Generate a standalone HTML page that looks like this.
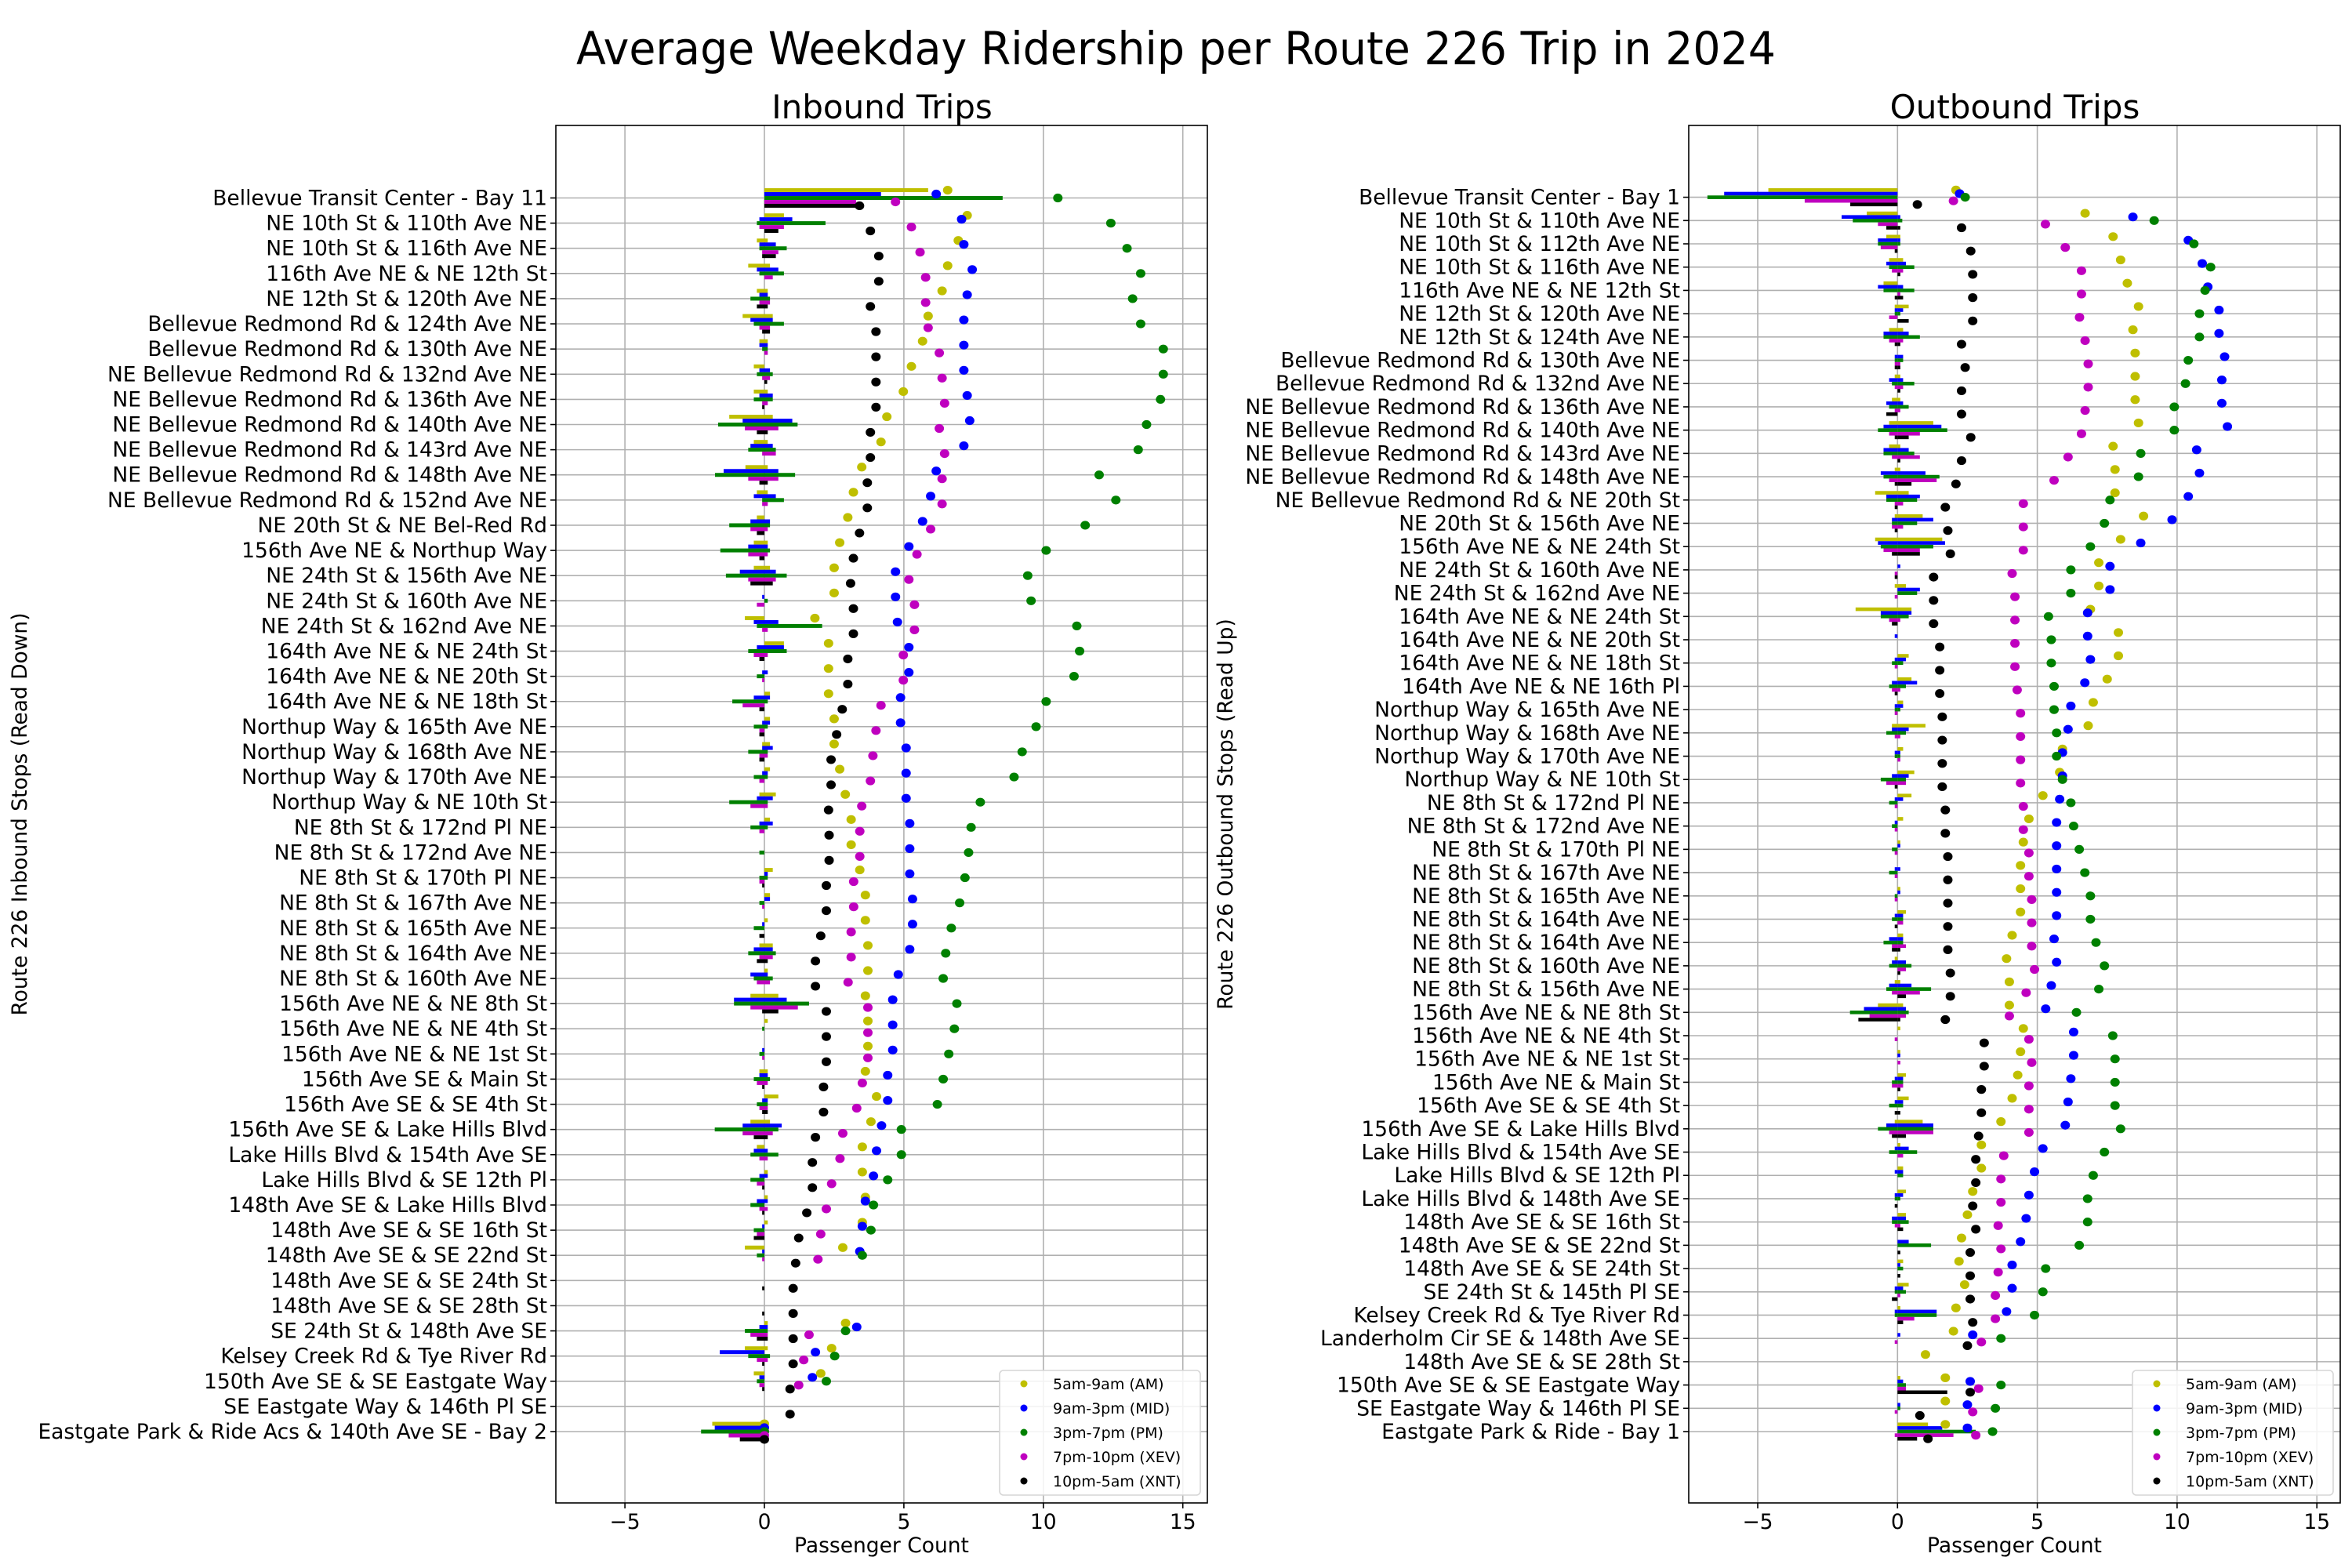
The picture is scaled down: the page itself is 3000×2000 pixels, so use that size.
<!DOCTYPE html>
<html><head><meta charset="utf-8"><style>
html,body{margin:0;padding:0;background:#fff;}
svg{display:block;font-family:"DejaVu Sans","Liberation Sans",sans-serif;}
</style></head><body>
<svg id="fig" width="3000" height="2000" viewBox="0 0 3000 2000" xmlns="http://www.w3.org/2000/svg">
<rect width="3000" height="2000" fill="#fff"/>
<text x="1500" y="82" font-size="58" text-anchor="middle" textLength="1530" lengthAdjust="spacingAndGlyphs">Average Weekday Ridership per Route 226 Trip in 2024</text>
<text x="1125" y="151" font-size="42" text-anchor="middle">Inbound Trips</text>
<text x="2570" y="151" font-size="42" text-anchor="middle">Outbound Trips</text>
<g id="L"></g><g id="R"></g>
</svg>
<script>
const seriesNames = ["5am-9am (AM)","9am-3pm (MID)","3pm-7pm (PM)","7pm-10pm (XEV)","10pm-5am (XNT)"];
const seriesColors = ["#bfbf00","#0000ff","#008000","#bf00bf","#000000"];
const xTicks = [-5,0,5,10,15];

const inStops = ["Bellevue Transit Center - Bay 11","NE 10th St & 110th Ave NE","NE 10th St & 116th Ave NE","116th Ave NE & NE 12th St","NE 12th St & 120th Ave NE","Bellevue Redmond Rd & 124th Ave NE","Bellevue Redmond Rd & 130th Ave NE","NE Bellevue Redmond Rd & 132nd Ave NE","NE Bellevue Redmond Rd & 136th Ave NE","NE Bellevue Redmond Rd & 140th Ave NE","NE Bellevue Redmond Rd & 143rd Ave NE","NE Bellevue Redmond Rd & 148th Ave NE","NE Bellevue Redmond Rd & 152nd Ave NE","NE 20th St & NE Bel-Red Rd","156th Ave NE & Northup Way","NE 24th St & 156th Ave NE","NE 24th St & 160th Ave NE","NE 24th St & 162nd Ave NE","164th Ave NE & NE 24th St","164th Ave NE & NE 20th St","164th Ave NE & NE 18th St","Northup Way & 165th Ave NE","Northup Way & 168th Ave NE","Northup Way & 170th Ave NE","Northup Way & NE 10th St","NE 8th St & 172nd Pl NE","NE 8th St & 172nd Ave NE","NE 8th St & 170th Pl NE","NE 8th St & 167th Ave NE","NE 8th St & 165th Ave NE","NE 8th St & 164th Ave NE","NE 8th St & 160th Ave NE","156th Ave NE & NE 8th St","156th Ave NE & NE 4th St","156th Ave NE & NE 1st St","156th Ave SE & Main St","156th Ave SE & SE 4th St","156th Ave SE & Lake Hills Blvd","Lake Hills Blvd & 154th Ave SE","Lake Hills Blvd & SE 12th Pl","148th Ave SE & Lake Hills Blvd","148th Ave SE & SE 16th St","148th Ave SE & SE 22nd St","148th Ave SE & SE 24th St","148th Ave SE & SE 28th St","SE 24th St & 148th Ave SE","Kelsey Creek Rd & Tye River Rd","150th Ave SE & SE Eastgate Way","SE Eastgate Way & 146th Pl SE","Eastgate Park & Ride Acs & 140th Ave SE - Bay 2"];
const inAM = [6.57,7.27,6.95,6.57,6.37,5.87,5.67,5.27,4.98,4.39,4.18,3.49,3.19,2.99,2.7,2.5,2.5,1.81,2.3,2.3,2.3,2.5,2.5,2.7,2.9,3.11,3.11,3.42,3.62,3.62,3.71,3.71,3.62,3.71,3.71,3.62,4.02,3.82,3.51,3.51,3.62,3.51,2.81,null,null,2.91,2.41,2.02,null,0];
const inMID = [6.16,7.07,7.15,7.45,7.27,7.15,7.15,7.15,7.27,7.36,7.15,6.16,5.96,5.67,5.18,4.7,4.7,4.77,5.18,5.18,4.88,4.88,5.08,5.08,5.08,5.21,5.21,5.21,5.31,5.31,5.21,4.8,4.6,4.6,4.6,4.42,4.42,4.2,4.02,3.91,3.62,3.51,3.42,null,null,3.31,1.83,1.72,null,0];
const inPM = [10.52,12.42,13.0,13.49,13.2,13.49,14.3,14.3,14.2,13.7,13.4,12.0,12.6,11.5,10.1,9.44,9.56,11.2,11.3,11.1,10.1,9.74,9.24,8.95,7.74,7.41,7.32,7.19,7.0,6.7,6.5,6.41,6.9,6.81,6.61,6.41,6.2,4.91,4.91,4.42,3.91,3.82,3.51,null,null,2.91,2.52,2.22,null,0];
const inXEV = [4.70,5.27,5.58,5.78,5.78,5.87,6.27,6.37,6.46,6.27,6.46,6.37,6.37,5.96,5.47,5.18,5.38,5.38,4.98,4.98,4.18,4.0,3.89,3.8,3.49,3.42,3.42,3.2,3.2,3.11,3.11,3.0,3.71,3.71,3.71,3.51,3.31,2.81,2.71,2.41,2.22,2.02,1.92,null,null,1.6,1.41,1.23,null,0];
const inXNT = [3.41,3.80,4.1,4.1,3.8,4.0,4.0,4.0,4.0,3.8,3.8,3.69,3.69,3.41,3.19,3.09,3.19,3.19,2.99,2.99,2.79,2.59,2.39,2.39,2.3,2.32,2.32,2.22,2.22,2.02,1.83,1.83,2.22,2.22,2.22,2.12,2.12,1.83,1.72,1.72,1.52,1.23,1.12,1.03,1.03,1.03,1.03,0.92,0.92,0];
const inOnAM = [5.87,0.7,0.12,0.2,0.12,0.3,0.12,0,0.12,0.3,0.12,0.12,0.12,0,0.12,0.2,0,0,0.7,0,0.2,0.2,0.2,0.2,0.41,0.2,0,0.3,0.2,0.12,0.3,0.12,0.5,0.12,0,0.12,0.5,0.2,0,0.12,0.12,0.12,0,0,0,0.12,0.12,0,0,0];
const inOffAM = [0,0,-0.27,-0.58,-0.27,-0.78,-0.18,-0.38,-0.38,-1.26,-0.38,-0.68,-0.27,-0.27,-0.38,-0.38,0,-0.7,0,0,0,0,-0.08,0,-0.18,0,0,0,0,0,-0.18,0,-0.5,0,0,-0.18,0,-0.5,-0.27,0,0,0,-0.7,0,0,0,-0.7,-0.38,0,-1.87];
const inOnMID = [4.18,1.0,0.41,0.5,0.12,0.3,0.12,0.2,0.3,1.0,0.3,0.5,0.41,0.2,0.12,0.41,0,0.5,0.7,0.12,0.2,0.2,0.3,0.12,0.3,0.3,0,0.12,0.2,0,0.3,0.12,0.8,0,0,0.12,0.12,0.62,0.12,0.12,0.12,0,0,0,0,0.12,0,0,0,0];
const inOffMID = [0,-0.18,-0.18,-0.27,-0.18,-0.5,-0.18,-0.18,-0.18,-0.78,-0.5,-1.46,-0.38,-0.5,-0.58,-0.88,-0.08,-0.38,-0.27,-0.08,-0.38,-0.08,-0.08,-0.08,-0.27,-0.18,0,0,0,-0.08,-0.38,-0.5,-1.09,0,-0.08,-0.18,-0.08,-0.78,-0.38,-0.18,-0.27,-0.08,-0.08,0,0,-0.18,-1.6,-0.18,0,-1.78];
const inOnPM = [8.54,2.19,0.8,0.7,0.2,0.7,0.12,0.3,0.3,1.19,0.41,1.1,0.7,0.2,0.2,0.8,0.12,2.07,0.8,0,0.12,0.12,0.12,0.12,0.12,0.12,0,0.12,0,0,0.41,0.3,1.6,0,0,0.2,0.12,0.5,0.5,0,0,0,0,0,0,0.12,0.2,0,0,0];
const inOffPM = [0,-0.27,-0.18,-0.18,-0.5,-0.38,-0.08,-0.27,-0.38,-1.66,-0.58,-1.77,-0.08,-1.26,-1.58,-1.38,0,-0.27,-0.58,-0.27,-1.15,-0.38,-0.58,-0.38,-1.26,-0.5,-0.18,-0.18,-0.18,-0.38,-0.58,-0.38,-1.09,-0.08,-0.18,-0.38,-0.27,-1.78,-0.5,-0.5,-0.5,-0.38,-0.27,0,0,-0.7,-0.58,-0.27,0,-2.27];
const inOnXEV = [3.29,0.7,0.5,0.3,0.2,0.2,0.12,0.2,0.12,0.5,0.41,0.5,0.12,0.12,0.12,0.41,0,0.12,0.12,0,0,0,0.12,0,0.12,0,0,0,0,0,0.3,0.2,1.2,0,0,0.12,0.12,0.3,0.12,0,0.12,0,0,0,0,0.12,0.12,0,0,0];
const inOffXEV = [0,-0.18,-0.08,0,-0.18,-0.18,0,-0.08,-0.08,-0.7,-0.08,-0.58,-0.08,-0.5,-0.58,-0.58,-0.27,-0.08,-0.38,-0.08,-0.78,-0.18,-0.18,-0.18,-0.5,-0.18,0,-0.18,-0.08,0,-0.18,-0.27,-0.5,0,-0.08,-0.27,-0.18,-0.78,-0.18,-0.27,-0.18,-0.27,-0.08,0,0,-0.5,-0.27,-0.18,0,-1.28];
const inOnXNT = [3.3,0.5,0.41,0,0.12,0.2,0,0.1,0,0.12,0,0.12,0,0,0,0.3,0,0,0,0,0,0,0,0,0,0,0,0,0,0,0.12,0,0.5,0,0,0,0.12,0.12,0,0,0,0,0,0,0,0.12,0,0,0,0];
const inOffXNT = [0,0,-0.08,0,-0.27,-0.08,0,0,-0.08,-0.27,0,-0.18,0,-0.27,-0.18,-0.5,0,0,-0.18,0,-0.18,-0.18,-0.18,0,0,0,0,-0.08,0,-0.18,-0.27,0,-0.08,0,0,-0.08,-0.08,-0.38,0,-0.08,-0.08,-0.38,0,-0.08,-0.08,-0.27,-0.08,-0.08,0,-0.88];

const outStops = ["Bellevue Transit Center - Bay 1","NE 10th St & 110th Ave NE","NE 10th St & 112th Ave NE","NE 10th St & 116th Ave NE","116th Ave NE & NE 12th St","NE 12th St & 120th Ave NE","NE 12th St & 124th Ave NE","Bellevue Redmond Rd & 130th Ave NE","Bellevue Redmond Rd & 132nd Ave NE","NE Bellevue Redmond Rd & 136th Ave NE","NE Bellevue Redmond Rd & 140th Ave NE","NE Bellevue Redmond Rd & 143rd Ave NE","NE Bellevue Redmond Rd & 148th Ave NE","NE Bellevue Redmond Rd & NE 20th St","NE 20th St & 156th Ave NE","156th Ave NE & NE 24th St","NE 24th St & 160th Ave NE","NE 24th St & 162nd Ave NE","164th Ave NE & NE 24th St","164th Ave NE & NE 20th St","164th Ave NE & NE 18th St","164th Ave NE & NE 16th Pl","Northup Way & 165th Ave NE","Northup Way & 168th Ave NE","Northup Way & 170th Ave NE","Northup Way & NE 10th St","NE 8th St & 172nd Pl NE","NE 8th St & 172nd Ave NE","NE 8th St & 170th Pl NE","NE 8th St & 167th Ave NE","NE 8th St & 165th Ave NE","NE 8th St & 164th Ave NE","NE 8th St & 164th Ave NE","NE 8th St & 160th Ave NE","NE 8th St & 156th Ave NE","156th Ave NE & NE 8th St","156th Ave NE & NE 4th St","156th Ave NE & NE 1st St","156th Ave NE & Main St","156th Ave SE & SE 4th St","156th Ave SE & Lake Hills Blvd","Lake Hills Blvd & 154th Ave SE","Lake Hills Blvd & SE 12th Pl","Lake Hills Blvd & 148th Ave SE","148th Ave SE & SE 16th St","148th Ave SE & SE 22nd St","148th Ave SE & SE 24th St","SE 24th St & 145th Pl SE","Kelsey Creek Rd & Tye River Rd","Landerholm Cir SE & 148th Ave SE","148th Ave SE & SE 28th St","150th Ave SE & SE Eastgate Way","SE Eastgate Way & 146th Pl SE","Eastgate Park & Ride - Bay 1"];
const outAM = [2.09,6.71,7.71,7.98,8.22,8.62,8.42,8.5,8.5,8.5,8.62,7.71,7.78,7.78,8.8,7.98,7.2,7.2,6.9,7.9,7.9,7.5,7.0,6.82,5.9,5.8,5.2,4.7,4.5,4.4,4.4,4.4,4.1,3.9,4.0,4.0,4.5,4.4,4.3,4.1,3.7,3.0,3.0,2.69,2.5,2.29,2.2,2.4,2.09,2.0,1.0,1.71,1.71,1.71];
const outMID = [2.22,8.42,10.4,10.9,11.1,11.5,11.5,11.7,11.6,11.6,11.8,10.7,10.8,10.4,9.82,8.7,7.6,7.6,6.8,6.8,6.9,6.7,6.2,6.1,5.9,5.9,5.8,5.69,5.69,5.69,5.69,5.69,5.6,5.69,5.5,5.3,6.3,6.3,6.2,6.1,6.0,5.2,4.9,4.7,4.6,4.4,4.1,4.1,3.9,2.69,null,2.6,2.5,2.5];
const outPM = [2.42,9.18,10.6,11.2,11.0,10.8,10.8,10.4,10.3,9.9,9.9,8.7,8.62,7.6,7.4,6.9,6.2,6.2,5.4,5.5,5.5,5.6,5.6,5.69,5.69,5.9,6.2,6.3,6.5,6.7,6.9,6.9,7.1,7.4,7.2,6.4,7.7,7.78,7.78,7.78,7.98,7.4,7.0,6.8,6.8,6.5,5.3,5.2,4.9,3.7,null,3.7,3.5,3.4];
const outXEV = [2.0,5.29,6.0,6.58,6.58,6.51,6.71,6.82,6.82,6.71,6.58,6.1,5.6,4.5,4.5,4.5,4.1,4.2,4.2,4.2,4.2,4.28,4.4,4.4,4.4,4.4,4.5,4.5,4.7,4.7,4.8,4.8,4.8,4.9,4.6,4.0,4.7,4.8,4.7,4.7,4.7,3.8,3.7,3.7,3.6,3.7,3.6,3.5,3.5,3.0,null,2.9,2.69,2.8];
const outXNT = [0.71,2.29,2.62,2.69,2.69,2.69,2.29,2.42,2.29,2.29,2.62,2.29,2.09,1.71,1.8,1.89,1.29,1.29,1.29,1.51,1.51,1.51,1.6,1.6,1.6,1.6,1.71,1.71,1.8,1.8,1.8,1.8,1.8,1.89,1.89,1.71,3.1,3.1,3.0,3.0,2.9,2.8,2.8,2.69,2.8,2.6,2.6,2.6,2.69,2.5,null,2.6,0.8,1.09];
const outOnAM = [0,0,0.1,0.2,0,0.4,0.2,0,0.1,0.1,1.28,0.1,0.1,0.4,0.9,1.6,0,0.3,0.5,0,0.4,0.5,0.2,1.0,0.2,0.6,0.5,0.2,0.1,0,0.1,0.3,0.2,0,0.1,0.2,0.1,0.1,0.3,0.4,0.9,0.1,0.2,0.3,0.3,0,0.2,0.4,0.1,0,0,0.1,0,1.09];
const outOffAM = [-4.62,-1.1,-0.4,-0.3,-0.5,-0.1,-0.3,0,-0.1,-0.2,-0.3,-0.3,-0.1,-0.8,-0.1,-0.8,0,-0.1,-1.5,0,0,0,0,-0.2,0,0,0,0,0,0,0,0,0,-0.1,-0.1,-0.7,0,0,0,0,-0.1,0,0,0,0,0,0,0,0,0,0,0,0,0];
const outOnMID = [0,0.1,0.1,0.3,0.2,0.2,0.4,0.2,0.2,0.2,1.57,0.4,1.0,0.8,1.28,1.7,0.1,0.8,0.5,0,0.3,0.7,0.2,0.4,0.1,0.4,0.2,0,0.1,0.1,0.1,0.2,0.2,0.3,0.5,0.3,0,0.1,0.2,0.2,1.28,0.4,0.2,0.2,0.3,0.4,0.1,0.2,1.4,0.1,0,0.2,0.1,1.6];
const outOffMID = [-6.2,-2.0,-0.7,-0.4,-0.7,-0.1,-0.5,-0.1,-0.3,-0.4,-0.5,-0.5,-0.6,-0.4,-0.2,-0.7,0,0,-0.6,-0.1,-0.1,-0.2,-0.1,-0.2,-0.1,-0.2,-0.1,-0.1,0,-0.1,0,-0.1,-0.3,-0.2,-0.3,-1.2,0,0,-0.1,-0.1,-0.4,-0.1,-0.1,-0.1,-0.2,0,0,-0.1,-0.1,0,0,0,0,0];
const outOnPM = [0,0.17,0.1,0.6,0.6,0.1,0.8,0.2,0.6,0.4,1.78,0.6,1.5,0.7,0.7,1.28,0,0.7,0.4,0,0.2,0.3,0.1,0.3,0.1,0.3,0,0,0,0,0,0.2,0.2,0.5,1.2,0.4,0,0,0.2,0.2,1.28,0.7,0.2,0.1,0.4,1.2,0.2,0.3,1.4,0,0,0.3,0.1,2.8];
const outOffPM = [-6.8,-1.6,-0.7,-0.3,-0.5,-0.1,-0.5,-0.1,-0.2,-0.3,-0.7,-0.5,-0.5,-0.4,-0.2,-0.6,0,0,-0.6,0,-0.2,-0.3,-0.1,-0.4,-0.1,-0.6,-0.3,-0.2,-0.2,-0.3,-0.1,-0.2,-0.5,-0.3,-0.4,-1.7,0,0,-0.2,-0.3,-0.7,-0.3,0,-0.1,-0.2,0,0,-0.1,-0.1,0,0,0,0,0];
const outOnXEV = [0,0,0,0.2,0.1,0,0.2,0.1,0.2,0.1,0.8,0.8,1.4,0.2,0.2,0.8,0,0,0.1,0,0,0.1,0,0.1,0.1,0.3,0,0,0,0,0,0.2,0.3,0.3,0.8,0.3,0,0.1,0.2,0,1.28,0.2,0,0,0.1,0,0,0.1,0.6,0,0,0.3,0,2.0];
const outOffXEV = [-3.32,-0.7,-0.6,-0.2,0,-0.3,-0.3,-0.1,-0.1,-0.1,-0.3,-0.2,-0.3,-0.1,-0.2,-0.5,-0.1,-0.1,-0.3,0,-0.1,-0.2,-0.1,-0.1,0,-0.4,-0.1,-0.1,-0.1,-0.1,-0.1,0,-0.2,0,-0.2,-1.0,-0.1,0,-0.2,0,-0.3,0,0,0,-0.1,0,0,0,0,-0.1,0,0,-0.1,-0.1];
const outOnXNT = [0,0.1,0,0.1,0.2,0.4,0.1,0.1,0.1,0,0.4,0.1,0.5,0,0,0.8,0,0,0,0,0,0,0,0,0,0,0,0,0,0,0,0,0.1,0.1,0.3,0.1,0,0,0.1,0.1,0.3,0,0,0,0.2,0.1,0.1,0,0.2,0,0,1.78,0,0.7];
const outOffXNT = [-1.69,-0.4,-0.1,0,-0.1,0,-0.1,-0.1,0,-0.4,-0.1,0,-0.1,-0.1,-0.1,-0.2,-0.1,0,-0.2,0,0,-0.1,0,0,0,-0.1,0,0,0,0,0,-0.1,-0.2,0,0,-1.4,0,0,0,-0.1,-0.2,0,0,-0.1,0,0,0,-0.2,0,0,0,0,0,0];

const NS = "http://www.w3.org/2000/svg";
function mk(parent, tag, attrs, text) {
  const e = document.createElementNS(NS, tag);
  for (const k in attrs) e.setAttribute(k, attrs[k]);
  if (text !== undefined) e.textContent = text;
  parent.appendChild(e);
  return e;
}

function drawPanel(g, cfg) {
  const xScale = v => cfg.x0 + v * cfg.unit;
  const n = cfg.stops.length;
  const yScale = i => cfg.yFirst + i * (cfg.yLast - cfg.yFirst) / (n - 1);
  const step = (cfg.yLast - cfg.yFirst) / (n - 1);
  const bh = step * 0.155;
  xTicks.forEach(t => {
    const gl = mk(g, "line", {x1: xScale(t), x2: xScale(t), y1: cfg.top, y2: cfg.bottom, stroke: "#b0b0b0", "stroke-width": 1.6});
    
    
    const tl = mk(g, "text", {x: xScale(t), y: cfg.bottom + 33, "font-size": 26.5, "text-anchor": "middle"}, t < 0 ? "\u2212" + Math.abs(t) : String(t));
    
    
    mk(g, "line", {x1: xScale(t), x2: xScale(t), y1: cfg.bottom, y2: cfg.bottom + 7, stroke: "#000", "stroke-width": 1.6});
  });
  cfg.stops.forEach((s, i) => {
    const y = yScale(i);
    const gl = mk(g, "line", {x1: cfg.left, x2: cfg.right, y1: y, y2: y, stroke: "#b0b0b0", "stroke-width": 1.6});
    
    
    mk(g, "line", {x1: cfg.left - 7, x2: cfg.left, y1: y, y2: y, stroke: "#000", "stroke-width": 1.6});
    const tl = mk(g, "text", {x: cfg.left - 11, y: y + 9, "font-size": 26.5, "text-anchor": "end"}, s);
    
    
  });
  cfg.ons.forEach((arr, k) => {
    arr.forEach((v, i) => {
      const yc = yScale(i) + (k - 2) * bh;
      [v, cfg.offs[k][i]].forEach(val => {
        if (!val) return;
        const x1 = Math.min(xScale(0), xScale(val)), w = Math.abs(xScale(val) - xScale(0));
        const r = mk(g, "rect", {x: x1, y: yc - bh / 2, width: w, height: bh, fill: seriesColors[k]});
        
        
      });
    });
  });
  cfg.dots.forEach((arr, k) => {
    arr.forEach((v, i) => {
      if (v === null) return;
      const c = mk(g, "ellipse", {cx: xScale(v), cy: yScale(i) + (k - 2) * bh, rx: 6, ry: 5.6, fill: seriesColors[k]});
      
      
    });
  });
  const fr = mk(g, "rect", {x: cfg.left, y: cfg.top, width: cfg.right - cfg.left, height: cfg.bottom - cfg.top, fill: "none", stroke: "#000", "stroke-width": 1.6});
  
  
  const xl = mk(g, "text", {x: (cfg.left + cfg.right) / 2, y: cfg.bottom + 63, "font-size": 26.5, "text-anchor": "middle"}, "Passenger Count");
  
  
  const yl = mk(g, "text", {x: 0, y: 0, "font-size": 26.5, "text-anchor": "middle", transform: `translate(${cfg.yTitleX},${(cfg.top + cfg.bottom) / 2}) rotate(-90)`}, cfg.yTitle);
  
  
  const lg = mk(g, "g", {});
  
  
  mk(lg, "rect", {x: cfg.legX, y: 1748, width: 256, height: 159, rx: 5, fill: "#fff", "fill-opacity": 0.85, stroke: "#d6d6d6", "stroke-width": 1.6});
  seriesNames.forEach((nm, k) => {
    const ly = 1765 + k * 31;
    const e = mk(lg, "g", {});
    
    
    mk(e, "circle", {cx: cfg.legX + 31, cy: ly, r: 4.5, fill: seriesColors[k]});
    mk(e, "text", {x: cfg.legX + 68, y: ly + 7, "font-size": 19}, nm);
  });
}

drawPanel(document.getElementById("L"), {
  stops: inStops, x0: 975, unit: 35.58, left: 709, right: 1540, top: 160, bottom: 1917,
  yFirst: 252.5, yLast: 1826, legX: 1275, yTitleX: 34, yTitle: "Route 226 Inbound Stops (Read Down)",
  dots: [inAM, inMID, inPM, inXEV, inXNT],
  ons: [inOnAM, inOnMID, inOnPM, inOnXEV, inOnXNT],
  offs: [inOffAM, inOffMID, inOffPM, inOffXEV, inOffXNT]
});
drawPanel(document.getElementById("R"), {
  stops: outStops, x0: 2420.3, unit: 35.66, left: 2154, right: 2985, top: 160, bottom: 1917,
  yFirst: 251.6, yLast: 1826, legX: 2720, yTitleX: 1572, yTitle: "Route 226 Outbound Stops (Read Up)",
  dots: [outAM, outMID, outPM, outXEV, outXNT],
  ons: [outOnAM, outOnMID, outOnPM, outOnXEV, outOnXNT],
  offs: [outOffAM, outOffMID, outOffPM, outOffXEV, outOffXNT]
});
</script>
</body></html>
